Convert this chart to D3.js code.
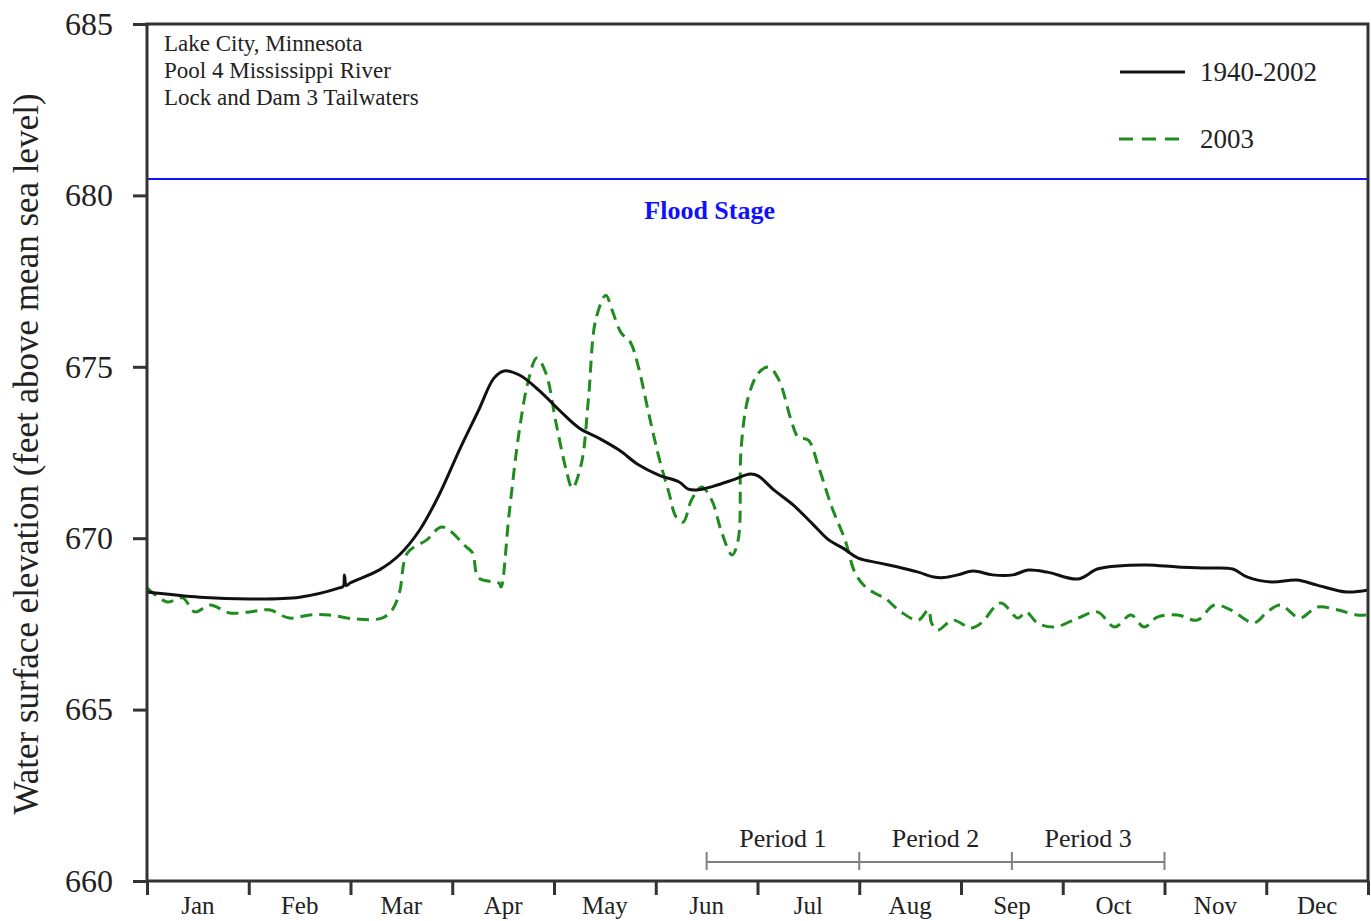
<!DOCTYPE html>
<html>
<head>
<meta charset="utf-8">
<script src="https://cdn.jsdelivr.net/npm/d3@7"></script>
<style>
  body { margin: 0; background: white; }
  text { font-family: "Liberation Serif", "Times New Roman", serif; }
</style>
</head>
<body>
<div id="container"></div>
<script>
let w = 1371;
let h = 921;
let margin = {left: 147, right: 3, top: 24, bottom: 40};

// months (x position in months from Jan 1)
let months = ["Jan","Feb","Mar","Apr","May","Jun","Jul","Aug","Sep","Oct","Nov","Dec"];
let yTicks = [660, 665, 670, 675, 680, 685];
let floodStage = 680.48;

// long term mean 1940-2002: [month, elevation]
let mean19402002 = [
  [0.00,668.43],[0.52,668.28],[1.01,668.23],[1.50,668.28],[1.89,668.55],[1.93,668.60],
  [1.94,668.93],[1.96,668.62],[2.00,668.70],[2.28,669.07],[2.48,669.51],[2.68,670.24],
  [2.87,671.26],[3.07,672.57],[3.26,673.74],[3.41,674.67],[3.51,674.88],[3.66,674.76],
  [3.85,674.32],[4.05,673.74],[4.25,673.21],[4.44,672.92],[4.64,672.57],[4.83,672.14],
  [5.03,671.84],[5.23,671.64],[5.32,671.43],[5.42,671.41],[5.57,671.52],[5.76,671.70],
  [5.93,671.87],[6.01,671.81],[6.16,671.41],[6.35,670.97],[6.55,670.39],[6.70,669.95],
  [6.84,669.71],[6.99,669.42],[7.19,669.28],[7.38,669.16],[7.58,669.01],[7.73,668.87],
  [7.83,668.85],[7.97,668.93],[8.12,669.04],[8.31,668.93],[8.51,668.93],[8.66,669.07],
  [8.85,669.01],[9.15,668.81],[9.34,669.10],[9.54,669.19],[9.83,669.22],[10.13,669.16],
  [10.42,669.13],[10.67,669.10],[10.81,668.87],[11.05,668.72],[11.30,668.78],[11.50,668.63],
  [11.79,668.43],[12.00,668.49]
];

// 2003: [month, elevation]
let year2003 = [
  [0.00,668.55],[0.20,668.14],[0.35,668.26],[0.47,667.85],[0.62,668.05],[0.81,667.82],
  [1.01,667.85],[1.20,667.91],[1.40,667.67],[1.60,667.76],[1.79,667.76],[2.06,667.64],
  [2.31,667.67],[2.41,667.91],[2.48,668.40],[2.56,669.57],[2.75,669.95],[2.90,670.33],
  [3.14,669.74],[3.20,669.57],[3.26,668.84],[3.46,668.69],[3.48,668.58],[3.56,670.74],
  [3.66,673.16],[3.75,674.62],[3.83,675.26],[3.92,674.82],[4.02,673.36],[4.12,671.99],
  [4.18,671.46],[4.27,672.19],[4.34,674.12],[4.41,676.37],[4.51,677.09],[4.57,676.66],
  [4.66,675.99],[4.75,675.72],[4.83,674.99],[4.93,673.65],[5.03,672.37],[5.13,671.32],
  [5.20,670.62],[5.27,670.47],[5.35,671.11],[5.45,671.49],[5.55,671.11],[5.65,670.15],
  [5.75,669.51],[5.81,669.95],[5.84,672.66],[5.91,674.12],[6.01,674.82],[6.11,674.99],
  [6.21,674.62],[6.33,673.45],[6.40,672.95],[6.50,672.86],[6.60,672.08],[6.73,670.91],
  [6.86,669.95],[6.96,668.98],[7.06,668.58],[7.19,668.34],[7.25,668.26],[7.41,667.85],
  [7.58,667.61],[7.68,667.91],[7.71,667.53],[7.77,667.32],[7.92,667.61],[8.10,667.38],
  [8.20,667.53],[8.39,668.11],[8.56,667.67],[8.64,667.85],[8.75,667.53],[8.92,667.41],
  [9.15,667.67],[9.34,667.85],[9.51,667.41],[9.67,667.76],[9.80,667.41],[9.93,667.70],
  [10.13,667.76],[10.32,667.61],[10.49,668.05],[10.65,667.91],[10.88,667.53],[11.01,667.85],
  [11.14,668.05],[11.33,667.67],[11.50,667.99],[11.70,667.91],[11.89,667.76],[12.00,667.76]
];

let periods = [
  {label: "Period 1", from: 5.5, to: 7.0},
  {label: "Period 2", from: 7.0, to: 8.5},
  {label: "Period 3", from: 8.5, to: 10.0}
];
let periodEnds = [5.5, 7.0, 8.5, 10.0];
let siteLines = ["Lake City, Minnesota", "Pool 4 Mississippi River", "Lock and Dam 3 Tailwaters"];

let viz = d3.select("#container")
  .append("svg")
    .attr("width", w)
    .attr("height", h)
    .style("background-color", "white");

let x = d3.scaleLinear().domain([0, 12]).range([margin.left, w - margin.right]);
let y = d3.scaleLinear().domain([660, 685]).range([h - margin.bottom, margin.top]);

let axisColor = "#333";
let textColor = "#222";

// flood stage
viz.append("line")
  .attr("x1", x(0)).attr("x2", x(12))
  .attr("y1", y(floodStage)).attr("y2", y(floodStage))
  .attr("stroke", "#1010ff").attr("stroke-width", 2);
viz.append("text")
  .attr("x", x(5.53)).attr("y", 219)
  .attr("text-anchor", "middle")
  .attr("font-size", 26).attr("font-weight", "bold")
  .attr("fill", "#1010ff")
  .text("Flood Stage");

// lines
let line = d3.line()
  .x(d => x(d[0]))
  .y(d => y(d[1]))
  .curve(d3.curveCatmullRom);

viz.append("path")
  .datum(year2003)
  .attr("d", line)
  .attr("fill", "none")
  .attr("stroke", "#1e8c1e")
  .attr("stroke-width", 3)
  .attr("stroke-dasharray", "12,7");

viz.append("path")
  .datum(mean19402002)
  .attr("d", line)
  .attr("fill", "none")
  .attr("stroke", "#111")
  .attr("stroke-width", 3);

// frame
viz.append("rect")
  .attr("x", x(0)).attr("y", y(685))
  .attr("width", x(12) - x(0)).attr("height", y(660) - y(685))
  .attr("fill", "none")
  .attr("stroke", axisColor).attr("stroke-width", 3);

// y axis
let yAxis = viz.append("g")
  .attr("transform", "translate(" + x(0) + ",0)")
  .call(d3.axisLeft(y).tickValues(yTicks).tickSize(14).tickPadding(20));
yAxis.select(".domain").remove();
yAxis.selectAll("line").attr("stroke", axisColor).attr("stroke-width", 3);
yAxis.selectAll("text")
  .attr("font-size", 32).attr("fill", textColor)
  .style("font-family", "'Liberation Serif', serif");

// x axis
let xAxis = viz.append("g")
  .attr("transform", "translate(0," + y(660) + ")")
  .call(d3.axisBottom(x).tickValues(d3.range(0, 13)).tickSize(14).tickFormat(""));
xAxis.select(".domain").remove();
xAxis.selectAll("line").attr("stroke", axisColor).attr("stroke-width", 3);

viz.selectAll(".monthLabel")
  .data(months)
  .enter()
  .append("text")
  .attr("class", "monthLabel")
  .attr("x", (d, i) => x(i + 0.5))
  .attr("y", 914)
  .attr("text-anchor", "middle")
  .attr("font-size", 25).attr("fill", textColor)
  .text(d => d);

// y title
viz.append("text")
  .attr("transform", "translate(38,454) rotate(-90)")
  .attr("text-anchor", "middle")
  .attr("font-size", 35).attr("fill", textColor)
  .text("Water surface elevation (feet above mean sea level)");

// site annotation
viz.selectAll(".site")
  .data(siteLines)
  .enter()
  .append("text")
  .attr("class", "site")
  .attr("x", x(0) + 17)
  .attr("y", (d, i) => 51 + i * 27)
  .attr("font-size", 23).attr("fill", textColor)
  .text(d => d);

// legend
viz.append("line")
  .attr("x1", 1120).attr("x2", 1185).attr("y1", 72).attr("y2", 72)
  .attr("stroke", "#111").attr("stroke-width", 3);
viz.append("text").attr("x", 1200).attr("y", 81)
  .attr("font-size", 27).attr("fill", textColor).text("1940-2002");
viz.append("line")
  .attr("x1", 1119).attr("x2", 1179).attr("y1", 139).attr("y2", 139)
  .attr("stroke", "#1e8c1e").attr("stroke-width", 3)
  .attr("stroke-dasharray", "14,9");
viz.append("text").attr("x", 1200).attr("y", 148)
  .attr("font-size", 27).attr("fill", textColor).text("2003");

// periods
let pY = 862;
let pg = viz.append("g");
pg.selectAll(".pline")
  .data(periods)
  .enter()
  .append("line")
  .attr("x1", d => x(d.from)).attr("x2", d => x(d.to))
  .attr("y1", pY).attr("y2", pY)
  .attr("stroke", "#808080").attr("stroke-width", 2);
pg.selectAll(".pend")
  .data(periodEnds)
  .enter()
  .append("line")
  .attr("x1", d => x(d)).attr("x2", d => x(d))
  .attr("y1", pY - 10).attr("y2", pY + 8)
  .attr("stroke", "#808080").attr("stroke-width", 2);
pg.selectAll(".plabel")
  .data(periods)
  .enter()
  .append("text")
  .attr("x", d => x((d.from + d.to) / 2))
  .attr("y", 847)
  .attr("text-anchor", "middle")
  .attr("font-size", 26).attr("fill", textColor)
  .text(d => d.label);
</script>
</body>
</html>
